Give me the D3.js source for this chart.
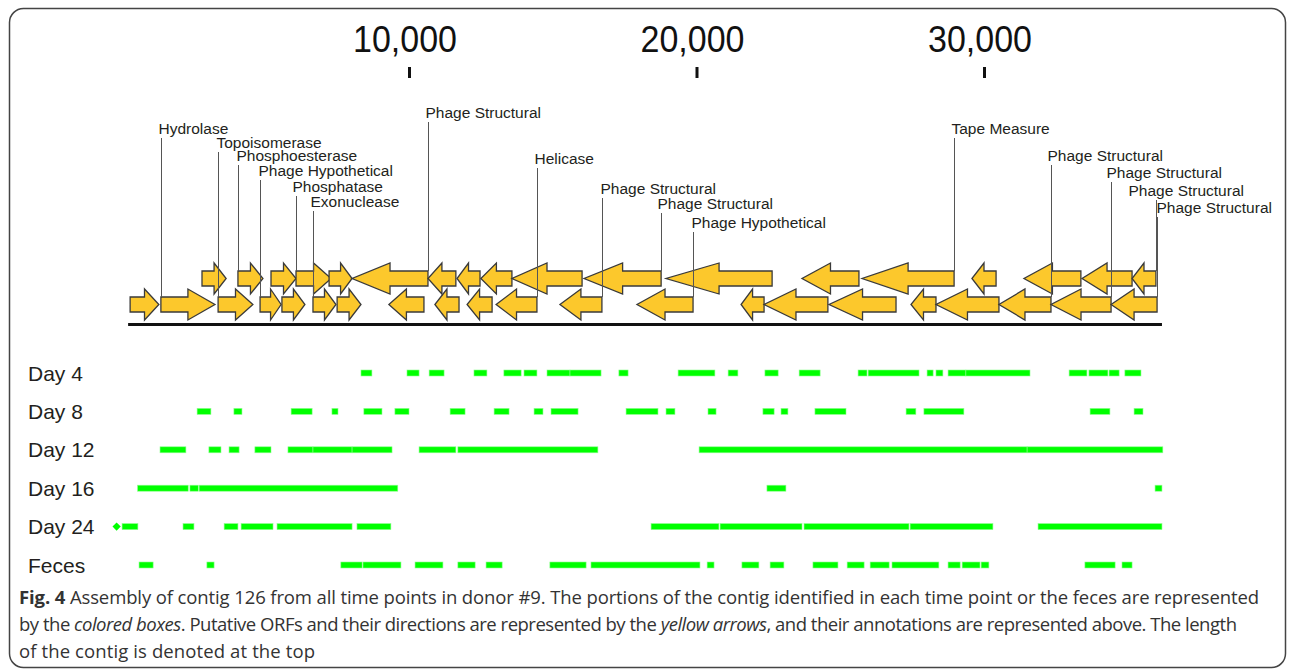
<!DOCTYPE html>
<html>
<head>
<meta charset="utf-8">
<script src="https://cdn.jsdelivr.net/npm/d3@7"></script>
<style>
  body { margin: 0; background: #fff; }
  svg { display: block; }
</style>
</head>
<body>
<div id="chart"></div>
<script>
// Set up SVG
let svgWidth = 1292;
let svgHeight = 670;

// contig coordinates (bp)
let contigStart = 230;
let contigEnd = 36190;
let ticks = [10000, 20000, 30000];

// ORFs as [start, end, strand]
let orfsUpper = [
  [2800, 3640, 1], [4050, 4920, 1], [5200, 6070, 1], [6070, 7290, 1], [7220, 8020, 1],
  [8020, 10660, -1], [10660, 11630, -1], [11670, 12470, -1], [12500, 13580, -1],
  [13580, 16020, -1], [16090, 18770, -1], [18940, 22630, -1], [23670, 25650, -1],
  [25760, 28960, -1], [29580, 30420, -1], [31390, 33370, -1], [33410, 35150, -1],
  [35150, 35980, -1]
];
let orfsLower = [
  [300, 1300, 1], [1370, 3250, 1], [3360, 4570, 1], [4820, 5550, 1], [5580, 6380, 1],
  [6660, 7460, 1], [7500, 8330, 1], [9300, 10520, -1], [10900, 11740, -1],
  [12020, 12890, -1], [13030, 14450, -1], [15250, 16710, -1], [17930, 19880, -1],
  [21550, 22350, -1], [22350, 24570, -1], [24610, 26940, -1], [27460, 28330, -1],
  [28330, 30520, -1], [30520, 32330, -1], [32330, 34420, -1], [34420, 36020, -1]
];

// annotations: label, row, index of ORF in that row
let annotations = [
  ['Hydrolase', 'lower', 1],
  ['Topoisomerase', 'lower', 2],
  ['Phosphoesterase', 'upper', 1],
  ['Phage Hypothetical', 'lower', 3],
  ['Phosphatase', 'upper', 3],
  ['Exonuclease', 'lower', 5],
  ['Phage Structural', 'upper', 5],
  ['Helicase', 'lower', 10],
  ['Phage Structural', 'lower', 11],
  ['Phage Structural', 'upper', 10],
  ['Phage Hypothetical', 'lower', 12],
  ['Tape Measure', 'upper', 13],
  ['Phage Structural', 'lower', 18],
  ['Phage Structural', 'lower', 19],
  ['Phage Structural', 'upper', 17],
  ['Phage Structural', 'lower', 20]
];

// coverage tracks
let trackNames = ['Day 4', 'Day 8', 'Day 12', 'Day 16', 'Day 24', 'Feces'];
let day4 = [[8330,8710],[9930,10350],[10700,11220],[12260,12710],[13300,13900],[14000,14450],
  [14800,15600],[15600,16680],[17300,17620],[19360,20640],[21100,21440],[22380,22840],
  [23570,24300],[25620,25930],[25970,27740],[28020,28230],[28330,28570],[28750,29370],
  [29370,31600],[32960,33580],[33650,34310],[34350,34700],[34900,35460]];
let day8 = [[2630,3110],[3910,4190],[5900,6630],[7320,7530],[8430,9060],[9510,10000],
  [11430,11950],[12960,13480],[14350,14660],[14940,15880],[17550,18660],[18940,19250],
  [20400,20680],[22310,22700],[22940,23180],[24120,25200],[27290,27630],[27910,29300],
  [33690,34380],[35220,35530]];
let day12 = [[1340,2240],[3040,3460],[3740,4090],[4640,5200],[5790,6660],[6660,8020],
  [8020,9410],[10350,11630],[11700,16570],[20090,31500],[31500,36220]];
let day16 = [[560,2320],[2380,2670],[2700,9610],[22450,23110],[35950,36190]];
let day24 = [[20,570],[2140,2520],[3570,4050],[4160,5270],[5410,8020],[8190,9370],
  [18420,20780],[20820,23670],[23740,27390],[27430,30310],[31880,36190]];
let day24Marker = [-170];
let feces = [[610,1100],[2970,3220],[7630,8370],[8400,9720],[10210,11180],[11700,12300],
  [12680,13240],[14900,16160],[16330,20120],[20370,20610],[21580,22170],[22560,23040],
  [24050,24920],[25240,25830],[26040,26700],[26800,28430],[28750,29170],[29240,29860],
  [29900,30170],[33510,34560],[34800,35150]];
let coverage = [day4, day8, day12, day16, day24, feces];

// label layout (baseline y, x offset from leader line)
let labelBaselines = [134, 148, 161, 176, 192, 207, 118, 164, 194, 209, 228, 134, 161, 178, 196, 213];
let labelDx = [-3, -2, -2, -2, -4, -3, -3, -3, -2, -4, -2, -3, -4, -5, -28, -1];

let captionLines = [
  [['Fig. 4', 'bold'], [' Assembly of contig 126 from all time points in donor #9. The portions of the contig identified in each time point or the feces are represented', '']],
  [['by the ', ''], ['colored boxes', 'italic'], ['. Putative ORFs and their directions are represented by the ', ''], ['yellow arrows', 'italic'], [', and their annotations are represented above. The length', '']],
  [['of the contig is denoted at the top', '']]
];
let captionWidths = [1240, 1218, 296];

let svg = d3.select('#chart').append('svg')
  .attr('width', svgWidth)
  .attr('height', svgHeight);

// frame
svg.append('rect')
  .attr('x', 9.5).attr('y', 8.5)
  .attr('width', 1276).attr('height', 659)
  .attr('rx', 14).attr('ry', 14)
  .attr('fill', 'none')
  .attr('stroke', '#444')
  .attr('stroke-width', 1.5);

let x = d3.scaleLinear()
  .domain([0, 36000])
  .range([121.5, 1156.5]);

// top axis
let axis = svg.append('g')
  .attr('transform', 'translate(0,78)')
  .call(d3.axisTop(x).tickValues(ticks).tickFormat(d3.format(',')).tickSize(11).tickPadding(15));
axis.select('.domain').remove();
axis.selectAll('.tick line').attr('stroke', '#111').attr('stroke-width', 3);
axis.selectAll('.tick text')
  .attr('fill', '#111')
  .attr('dx', -4.5)
  .attr('font-family', 'Liberation Sans, Arial, sans-serif')
  .attr('font-size', 36)
  .attr('textLength', 104)
  .attr('lengthAdjust', 'spacingAndGlyphs');

// contig line
svg.append('line')
  .attr('x1', x(contigStart)).attr('x2', x(contigEnd))
  .attr('y1', 324.5).attr('y2', 324.5)
  .attr('stroke', '#111')
  .attr('stroke-width', 3);

// ORF arrows
let rowY = { upper: 278.5, lower: 304.5 };
let headH = 31, bodyH = 15;

function arrowPath(d, cy) {
  let tail = d[2] > 0 ? x(d[0]) : x(d[1]);
  let tip = d[2] > 0 ? x(d[1]) : x(d[0]);
  let neck = tip - (tip - tail) * 0.5;
  let p = d3.path();
  p.moveTo(tail, cy - bodyH / 2);
  p.lineTo(neck, cy - bodyH / 2);
  p.lineTo(neck, cy - headH / 2);
  p.lineTo(tip, cy);
  p.lineTo(neck, cy + headH / 2);
  p.lineTo(neck, cy + bodyH / 2);
  p.lineTo(tail, cy + bodyH / 2);
  p.closePath();
  return p.toString();
}

[['lower', orfsLower], ['upper', orfsUpper]].forEach(function(r) {
  svg.append('g').selectAll('path')
    .data(r[1])
    .enter()
    .append('path')
    .attr('d', d => arrowPath(d, rowY[r[0]]))
    .attr('fill', '#fcc82c')
    .attr('stroke', '#3a3a3a')
    .attr('stroke-width', 1.3)
    .attr('stroke-linejoin', 'miter');
});

// annotation labels and leader lines
let orfRows = { upper: orfsUpper, lower: orfsLower };
let labelGroup = svg.append('g');
annotations.forEach(function(a, i) {
  let orf = orfRows[a[1]][a[2]];
  let lx = Math.round(orf[2] > 0 ? x(orf[0]) : x(orf[1])) + 0.5;
  labelGroup.append('line')
    .attr('x1', lx).attr('x2', lx)
    .attr('y1', labelBaselines[i] + 4)
    .attr('y2', rowY[a[1]] - bodyH / 2)
    .attr('stroke', '#555')
    .attr('stroke-width', 1);
  labelGroup.append('text')
    .attr('x', lx + labelDx[i])
    .attr('y', labelBaselines[i])
    .attr('font-family', 'Liberation Sans, Arial, sans-serif')
    .attr('font-size', 15.5)
    .attr('fill', '#231f20')
    .text(a[0]);
});

// coverage tracks
let trackY = d3.scalePoint()
  .domain(trackNames)
  .range([373, 565]);

let tracks = svg.append('g');
trackNames.forEach(function(name, i) {
  let cy = trackY(name);
  tracks.append('text')
    .attr('x', 28)
    .attr('y', cy + 7.5)
    .attr('font-family', 'Liberation Sans, Arial, sans-serif')
    .attr('font-size', 21)
    .attr('fill', '#231f20')
    .text(name);
  tracks.append('g').selectAll('rect')
    .data(coverage[i])
    .enter()
    .append('rect')
    .attr('x', d => x(d[0]))
    .attr('width', d => x(d[1]) - x(d[0]))
    .attr('y', cy - 3)
    .attr('height', 6)
    .attr('fill', '#00ff00')
    .attr('stroke', '#8cff8c')
    .attr('stroke-width', 0.6);
});

tracks.selectAll('.marker')
  .data(day24Marker)
  .enter()
  .append('path')
  .attr('class', 'marker')
  .attr('d', d3.symbol(d3.symbolSquare, 34))
  .attr('transform', d => `translate(${x(d)},${trackY('Day 24')}) rotate(45)`)
  .attr('fill', '#00ff00');

// caption
let caption = svg.append('g');
captionLines.forEach(function(line, i) {
  let t = caption.append('text')
    .attr('x', 19)
    .attr('y', 604 + i * 27)
    .attr('font-family', 'Open Sans, sans-serif')
    .attr('font-size', 18.5)
    .attr('fill', '#333')
    .attr('textLength', captionWidths[i])
    .attr('lengthAdjust', 'spacing');
  line.forEach(function(part) {
    let s = t.append('tspan').text(part[0]);
    if (part[1] === 'bold') s.attr('font-weight', 'bold');
    if (part[1] === 'italic') s.attr('font-style', 'italic');
  });
});
</script>
</body>
</html>
